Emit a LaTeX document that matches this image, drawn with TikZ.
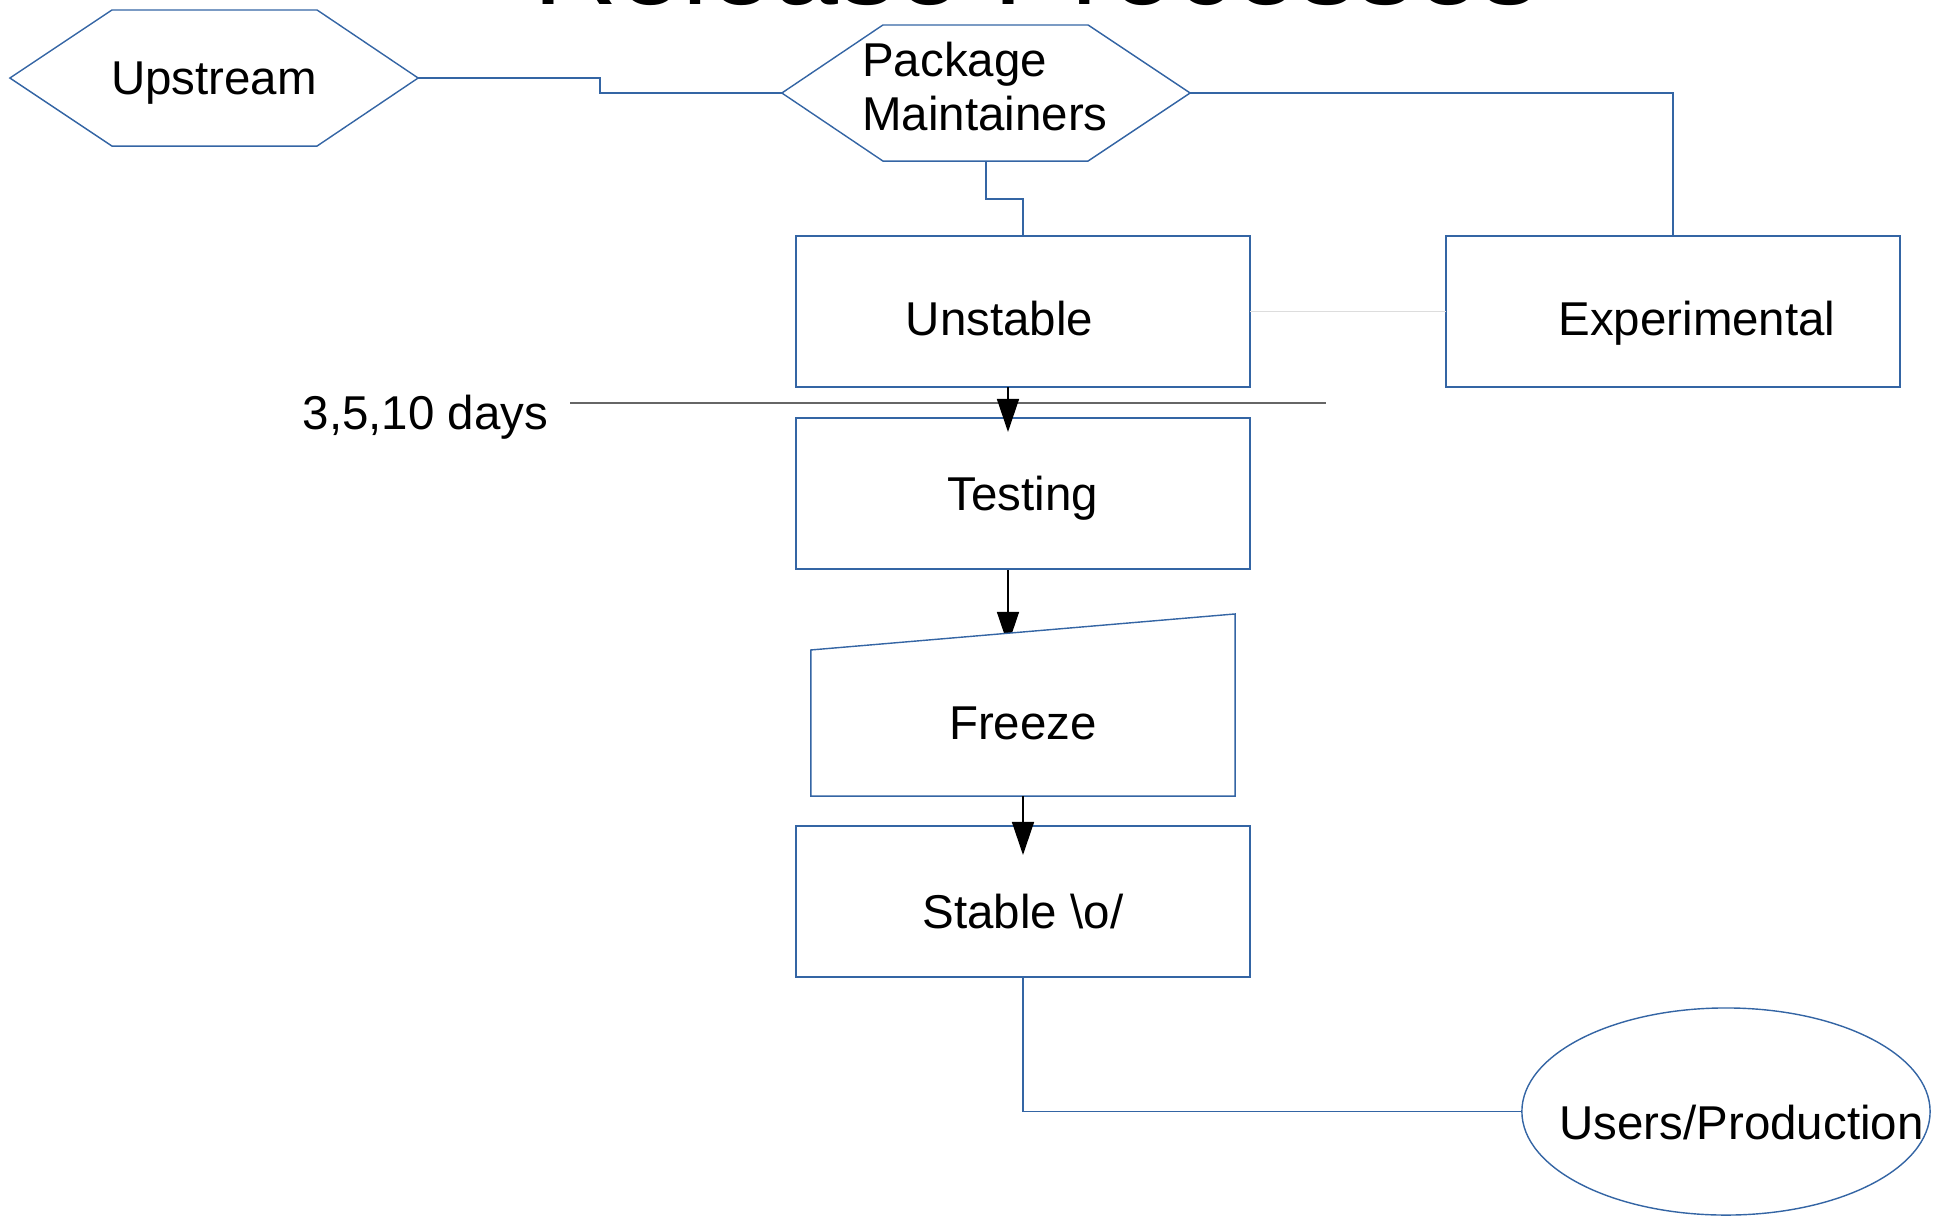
\documentclass[tikz,border=0pt]{standalone}
\usepackage{fontspec}
\setmainfont{Liberation Sans}
\usepackage{tikz}
\usetikzlibrary{arrows.meta, shapes.geometric}

\definecolor{lineblue}{HTML}{3465A4}
\definecolor{lightline}{HTML}{DDDDDD}
\definecolor{cutgray}{HTML}{666666}

\pgfdeclarelayer{back}
\pgfsetlayers{back,main}

\begin{document}
\begin{tikzpicture}[x=0.01cm, y=-0.01cm,
    txt/.style={font=\fontsize{13.5pt}{15.36pt}\selectfont, text depth=0pt, inner sep=0pt},
    box/.style={draw=lineblue, line width=0.4pt, minimum width=4.54cm, minimum height=1.51cm, inner sep=0pt, outer sep=0pt},
    hexa/.style={minimum width=4.08cm, minimum height=1.36cm, inner sep=0pt, outer sep=0pt},
    link/.style={draw=lineblue, line width=0.4pt},
    flow/.style={draw=black, line width=0.4pt, -{Triangle[length=0.33cm,width=0.22cm]}}]
        \useasboundingbox (0,0) rectangle (1947,1217);

        \node[font=\fontsize{33.2pt}{40pt}\selectfont, anchor=base] at (1036,4) (title) {Release Processes};

        \node[hexa, txt] at (214,78) (up) {Upstream};
        \node[hexa, label={[font=\fontsize{13.5pt}{15.36pt}\selectfont, align=left, inner sep=0pt, xshift=-0.01cm, yshift=0.063cm]center:Package\\Maintainers}] at (986,93) (pm) {};

        \node[box, label={[txt, xshift=-0.235cm, yshift=-0.065cm]center:Unstable}] at (1023,311.5) (unstable) {};
        \node[box, label={[txt, xshift=0.24cm, yshift=-0.065cm]center:Experimental}] at (1673,311.5) (exp) {};
        \node[box, txt] at (1023,493.5) (testing) {Testing};
        \node[txt, minimum width=4.24cm, minimum height=1.46cm, outer sep=0pt] at (1023,723) (freeze) {Freeze};
        \node[box, label={[txt, yshift=-0.095cm]center:Stable \textbackslash o/}] at (1023,901.5) (stable) {};
        \node[ellipse, draw=lineblue, line width=0.4pt, minimum width=4.08cm, minimum height=2.07cm, inner sep=0pt, outer sep=0pt, label={[txt, xshift=0.155cm, yshift=-0.11cm]center:Users/Production}] at (1726,1111.5) (users) {};

        \node[txt] at (425.5,412.5) (days) {3,5,10 days};
        \coordinate (cutL) at (570,403);
        \coordinate (cutR) at (1326,403);

        % hexagon outlines
        \draw[link] (up.west) -- ([xshift=1.02cm]up.north west) -- ([xshift=-1.01cm]up.north east) -- (up.east)
            -- ([xshift=-1.01cm]up.south east) -- ([xshift=1.02cm]up.south west) -- cycle;
        \draw[link] (pm.west) -- ([xshift=1.01cm]pm.north west) -- ([xshift=-1.02cm]pm.north east) -- (pm.east)
            -- ([xshift=-1.02cm]pm.south east) -- ([xshift=1.01cm]pm.south west) -- cycle;

        \draw[link] (up.east) -- ++(182,0) |- (pm.west);
        \draw[link] (pm.south) -- ++(0,38) -| (unstable.north);
        \draw[link] (pm.east) -| (exp.north);
        \draw[link, draw=lightline] (unstable.east) -- (exp.west);
        \draw[link] (stable.south) |- (users.west);

        \draw[draw=cutgray, line width=0.55pt] (cutL) -- (cutR);

        \draw[flow] ([xshift=-0.15cm]unstable.south) -- ([xshift=-0.15cm, yshift=-0.14cm]testing.north);
        \draw[flow] (freeze.south) -- ([yshift=-0.29cm]stable.north);

        \begin{pgfonlayer}{back}
            \draw[flow] ([xshift=-0.15cm]testing.south) -- ([xshift=-0.15cm, yshift=0.05cm]freeze.north);
            \draw[link, fill=white] (freeze.north west) -- ([yshift=0.36cm]freeze.north east)
                -- (freeze.south east) -- (freeze.south west) -- cycle;
        \end{pgfonlayer}
\end{tikzpicture}
\end{document}
